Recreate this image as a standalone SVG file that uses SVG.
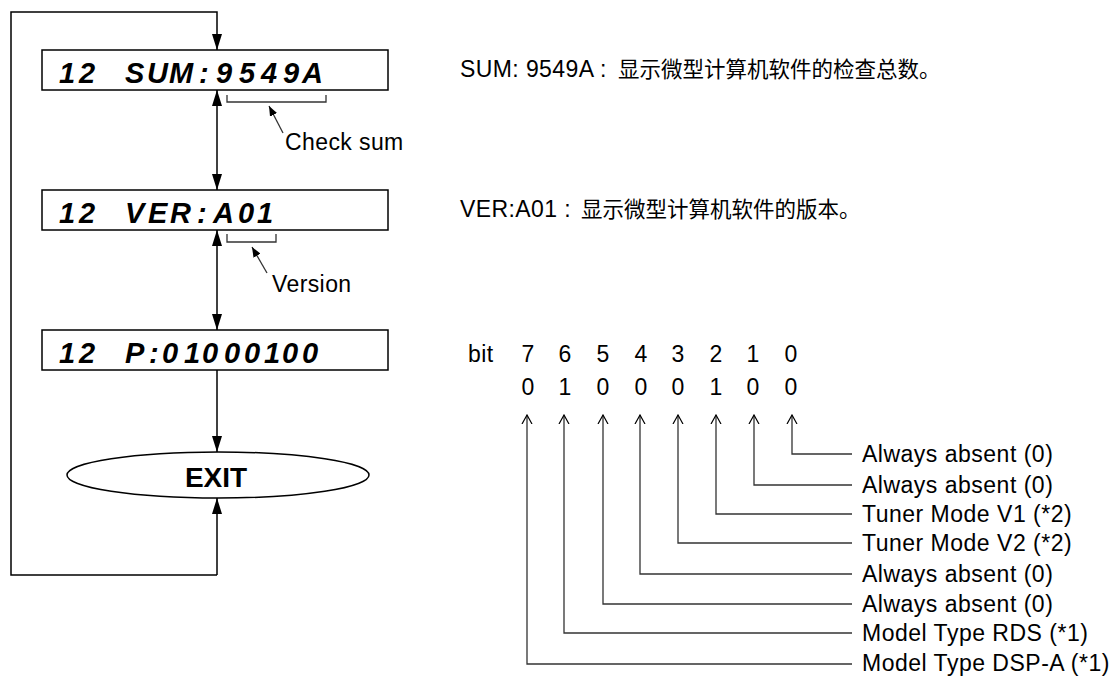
<svg xmlns="http://www.w3.org/2000/svg" width="1113" height="676" viewBox="0 0 1113 676">
<defs>
<marker id="fa" viewBox="0 0 16 10" refX="16" refY="5" markerWidth="16" markerHeight="10" markerUnits="userSpaceOnUse" orient="auto-start-reverse">
<path d="M0,0 L16,5 L0,10 Z" fill="#000"/>
</marker>
<marker id="fs" viewBox="0 0 10 8" refX="10" refY="4" markerWidth="10" markerHeight="8" markerUnits="userSpaceOnUse" orient="auto">
<path d="M0,0 L10,4 L0,8 Z" fill="#000"/>
</marker>
<marker id="oa" viewBox="0 0 10 12" refX="9" refY="6" markerWidth="10" markerHeight="12" markerUnits="userSpaceOnUse" orient="auto">
<path d="M0,1 L9,6 L0,11" fill="none" stroke="#000" stroke-width="1.2"/>
</marker>
</defs>
<style>
.box{fill:#fff;stroke:#000;stroke-width:1.5}
.ln{fill:none;stroke:#000;stroke-width:1.5}
.bl{fill:none;stroke:#333;stroke-width:1.3}
.lcd{font-family:"Liberation Sans",Arial,sans-serif;font-size:29px;font-weight:bold;font-style:italic;fill:#000}
.t{font-family:"Liberation Sans","Noto Sans CJK SC",sans-serif;font-size:23px;letter-spacing:0.4px;fill:#000}
.cjk{font-family:"Noto Sans CJK SC",sans-serif;font-size:21.5px;letter-spacing:0}
.lb{font-family:"Liberation Sans",Arial,sans-serif;font-size:23px;letter-spacing:0.5px;fill:#000}
.ex{font-family:"Liberation Sans",Arial,sans-serif;font-size:28px;font-weight:bold;fill:#000}
</style>
<rect width="1113" height="676" fill="#fff"/>
<g id="connectors">
<polyline class="ln" points="217,575 11,575 11,12 217,12 217,50" marker-end="url(#fa)"/>
<line class="ln" x1="217" y1="90" x2="217" y2="190" marker-start="url(#fa)" marker-end="url(#fa)"/>
<line class="ln" x1="217" y1="230" x2="217" y2="330" marker-start="url(#fa)" marker-end="url(#fa)"/>
<line class="ln" x1="217" y1="370" x2="217" y2="452" marker-end="url(#fa)"/>
<line class="ln" x1="217" y1="575" x2="217" y2="498" marker-end="url(#fa)"/>
</g>
<g id="sum">
<rect class="box" x="42" y="50" width="346" height="40"/>
<text class="lcd" y="83" x="59 79 125 147 169 199 216 239 261 283 302">12SUM:9549A</text>
</g>
<g id="ver">
<rect class="box" x="42" y="190" width="346" height="40"/>
<text class="lcd" y="223" x="59 79 125 148 170 197 213 238 257">12VER:A01</text>
</g>
<g id="p">
<rect class="box" x="42" y="330" width="346" height="40"/>
<text class="lcd" y="363" x="59 79 125 149 162 184 202 224 244 264 282 302">12P:01000100</text>
</g>
<g id="exit">
<ellipse class="box" cx="218" cy="475" rx="151" ry="23"/>
<text class="ex" x="216" y="487" text-anchor="middle">EXIT</text>
</g>
<g id="checksum">
<polyline class="bl" points="227,95 227,102 326,102 326,95"/>
<line class="bl" x1="283" y1="133" x2="269" y2="106" marker-end="url(#fs)"/>
<text class="t" x="285" y="150">Check sum</text>
</g>
<g id="version">
<polyline class="bl" points="227,234 227,242 276,242 276,234"/>
<line class="bl" x1="267" y1="273" x2="252" y2="247" marker-end="url(#fs)"/>
<text class="t" x="272" y="292">Version</text>
</g>
<g id="desc">
<text class="t" x="460" y="77">SUM: 9549A :<tspan class="cjk" x="618">显示微型计算机软件的检查总数。</tspan></text>
<text class="t" x="460" y="217">VER:A01 :<tspan class="cjk" x="581">显示微型计算机软件的版本。</tspan></text>
</g>
<g id="bits" class="t" text-anchor="middle">
<text x="468" y="362" text-anchor="start">bit</text>
<text x="528" y="362">7</text><text x="565" y="362">6</text><text x="603" y="362">5</text><text x="641" y="362">4</text>
<text x="678" y="362">3</text><text x="716" y="362">2</text><text x="753" y="362">1</text><text x="791" y="362">0</text>
<text x="528" y="395">0</text><text x="565" y="395">1</text><text x="603" y="395">0</text><text x="641" y="395">0</text>
<text x="678" y="395">0</text><text x="716" y="395">1</text><text x="753" y="395">0</text><text x="791" y="395">0</text>
</g>
<g id="bitlines">
<polyline class="bl" points="852,454 792,454 792,415" marker-end="url(#oa)"/>
<polyline class="bl" points="852,485 754,485 754,415" marker-end="url(#oa)"/>
<polyline class="bl" points="852,514 716,514 716,415" marker-end="url(#oa)"/>
<polyline class="bl" points="852,543 678,543 678,415" marker-end="url(#oa)"/>
<polyline class="bl" points="852,574 640,574 640,415" marker-end="url(#oa)"/>
<polyline class="bl" points="852,604 603,604 603,415" marker-end="url(#oa)"/>
<polyline class="bl" points="852,633 564,633 564,415" marker-end="url(#oa)"/>
<polyline class="bl" points="852,664 527,664 527,415" marker-end="url(#oa)"/>
</g>
<g id="bitlabels" class="lb">
<text x="862" y="462">Always absent (0)</text>
<text x="862" y="493">Always absent (0)</text>
<text x="862" y="522">Tuner Mode V1 (*2)</text>
<text x="862" y="551">Tuner Mode V2 (*2)</text>
<text x="862" y="582">Always absent (0)</text>
<text x="862" y="612">Always absent (0)</text>
<text x="862" y="641">Model Type RDS (*1)</text>
<text x="862" y="671">Model Type DSP-A (*1)</text>
</g>
</svg>
